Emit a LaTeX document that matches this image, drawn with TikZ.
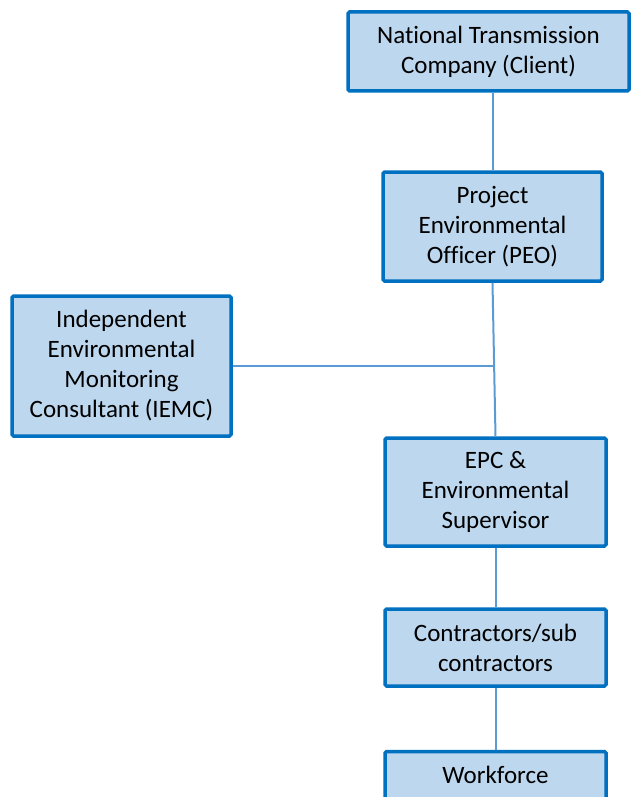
\documentclass[tikz,border=0pt]{standalone}
\usepackage{fontspec}
\setmainfont{Carlito}[Ligatures=NoCommon]
\definecolor{boxfill}{HTML}{BDD7EE}
\definecolor{boxline}{HTML}{0070C0}
\definecolor{linkline}{HTML}{5B9BD5}
\begin{document}
\begin{tikzpicture}[x=1pt, y=-1pt,
    orgbox/.style={draw=boxline, fill=boxfill, line width=3.5pt, rounded corners=1.5pt,
        align=center, inner sep=0pt, font=\fontsize{25}{30}\selectfont},
    link/.style={draw=linkline, line width=2pt}]

    \useasboundingbox (0, 0) rectangle (631, 797);

    % Nodes
    \node at (488.5, 51.5) (NTC) [orgbox, minimum width=281pt, minimum height=79pt] {National Transmission\\Company (Client)};
    \node at (492.5, 226.5) (PEO) [orgbox, minimum width=219pt, minimum height=109pt] {Project\\Environmental\\Officer (PEO)};
    \node at (121.5, 366) (IEMC) [orgbox, minimum width=219pt, minimum height=140pt] {Independent\\Environmental\\Monitoring\\Consultant (IEMC)};
    \node at (495.5, 492) (EPC) [orgbox, minimum width=221pt, minimum height=108pt] {EPC \&\\Environmental\\Supervisor};
    \node at (495.5, 647.5) (CON) [orgbox, minimum width=221pt, minimum height=77pt] {Contractors/sub\\contractors};
    \node at (495.5, 790) (WF) [orgbox, minimum width=221pt, minimum height=77pt] {Workforce\\~};

    % Lines
    \draw[link] (PEO.north |- NTC.south) -- (PEO.north);
    \draw[link] (PEO.south) -- (EPC.north);
    \draw[link] (IEMC.east) -- (IEMC.east -| 494, 0);
    \draw[link] (EPC.south) -- (CON.north);
    \draw[link] (CON.south) -- (WF.north);

\end{tikzpicture}
\end{document}
